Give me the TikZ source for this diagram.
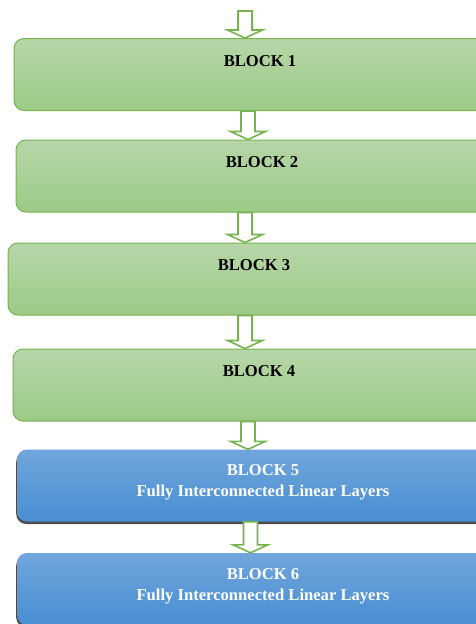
\documentclass[tikz,border=0pt]{standalone}
\usepackage{fontspec}
\setmainfont{Liberation Serif}
\usetikzlibrary{shapes}
\usetikzlibrary{positioning}
\usetikzlibrary{calc}
\usetikzlibrary{shadows}
\definecolor{edgegreen}{RGB}{118,178,78}
\definecolor{greentop}{RGB}{183,214,168}
\definecolor{greenbot}{RGB}{156,202,134}
\definecolor{bluetop}{RGB}{112,166,220}
\definecolor{bluebot}{RGB}{72,142,210}
\tikzstyle{greenbox}=[
        rectangle,
        draw=edgegreen,
        line width=1pt,
        rounded corners=10pt,
        top color=greentop,
        bottom color=greenbot,
        minimum width=492pt,
        minimum height=72pt,
        inner sep=0pt
]
\tikzstyle{bluebox}=[
        rectangle,
        rounded corners=10pt,
        top color=bluetop,
        bottom color=bluebot,
        minimum width=492pt,
        minimum height=72pt,
        inner sep=0pt,
        drop shadow={shadow xshift=-0.8pt,shadow yshift=-2.5pt,fill=black!70,opacity=1}
]
\tikzstyle{blocktext}=[font=\bfseries\fontsize{16.6}{21}\selectfont,align=center,inner sep=0pt]
\tikzstyle{hollow}=[draw=edgegreen,line width=1.6pt,fill=white,line join=miter]
\newcommand{\hollowarrow}[3]{%
\path[hollow] let \p1=(#1.south), \p2=(#2.north) in
  (#3pt-7pt,\y1) -- (#3pt-7pt,\y2+8pt) -- (#3pt-17.5pt,\y2+8pt) -- (#3pt,\y2)
  -- (#3pt+17.5pt,\y2+8pt) -- (#3pt+7pt,\y2+8pt) -- (#3pt+7pt,\y1) -- cycle;}

\begin{document}
\begin{tikzpicture}[x=1pt,y=-1pt]
\useasboundingbox (0,0) rectangle (476,624);
\clip (0,0) rectangle (476,624);
\coordinate (in) at (245,11);
\node[greenbox] (b1) at (260,74.5) {};
\node[greenbox] (b2) at (262,176) {};
\node[greenbox] (b3) at (254,279) {};
\node[greenbox] (b4) at (259,385) {};
\node[bluebox] (b5) at (263,485.5) {};
\node[bluebox] (b6) at (263,589) {};
%texts
\node[blocktext] (t1) at ([yshift=-23pt]b1.north) {BLOCK 1};
\node[blocktext] (t2) at ([yshift=-23pt]b2.north) {BLOCK 2};
\node[blocktext] (t3) at ([yshift=-23pt]b3.north) {BLOCK 3};
\node[blocktext] (t4) at ([yshift=-23pt]b4.north) {BLOCK 4};
\node[blocktext,text=white] (t5) at ([yshift=-33pt]b5.north) {BLOCK 5\\Fully Interconnected Linear Layers};
\node[blocktext,text=white] (t6) at ([yshift=-33pt]b6.north) {BLOCK 6\\Fully Interconnected Linear Layers};
%arrows
\hollowarrow{in}{b1}{245}
\hollowarrow{b1}{b2}{248}
\hollowarrow{b2}{b3}{245}
\hollowarrow{b3}{b4}{245}
\hollowarrow{b4}{b5}{248}
\hollowarrow{b5}{b6}{250.5}
\end{tikzpicture}
\end{document}
